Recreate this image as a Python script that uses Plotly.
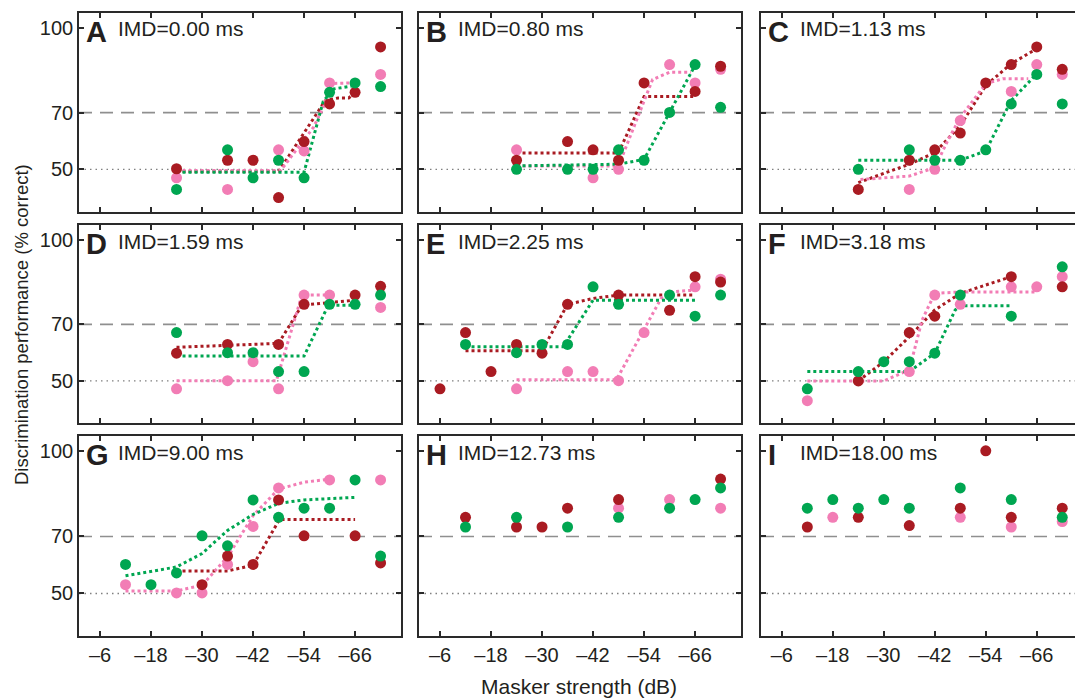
import plotly.graph_objects as go

# ---------------- data ----------------
MASKER = [-6, -12, -18, -24, -30, -36, -42, -48, -54, -60, -66, -72]
X_TICKS = [-6, -18, -30, -42, -54, -66]
X_TICK_TEXT = ["–6", "–18", "–30", "–42", "–54", "–66"]
Y_TICKS = [50, 70, 100]
PANEL_LETTERS = ["A", "B", "C", "D", "E", "F", "G", "H", "I"]
IMD_LABELS = ["IMD=0.00 ms", "IMD=0.80 ms", "IMD=1.13 ms", "IMD=1.59 ms", "IMD=2.25 ms",
              "IMD=3.18 ms", "IMD=9.00 ms", "IMD=12.73 ms", "IMD=18.00 ms"]

A_RED   = [None, None, None, 50.2, None, 53.2, 53.2, 40.0, 59.8, 73.1, 77.2, 93.2]
A_PINK  = [None, None, None, 47.0, None, 42.9, None, 56.9, 56.5, 80.5, None, 83.5]
A_GREEN = [None, None, None, 42.9, None, 56.9, 47.0, 53.2, 47.0, 77.2, 80.5, 79.2]

B_RED   = [None, None, None, 53.2, None, 59.8, 56.9, 53.2, 80.5, None, 77.5, 86.4]
B_PINK  = [None, None, None, 56.9, None, None, 47.0, 50.0, None, 87.0, 80.5, 85.3]
B_GREEN = [None, None, None, 50.0, None, 50.0, 50.0, 56.9, 53.2, 70.1, 87.0, 71.9]

C_RED   = [None, None, None, 42.9, None, 53.2, 56.9, 62.8, 80.5, 87.0, 93.2, 85.3]
C_PINK  = [None, None, None, None, None, 42.9, 50.0, 67.2, None, 77.5, 87.0, 83.5]
C_GREEN = [None, None, None, 50.0, None, 56.9, 53.2, 53.2, 56.9, 73.1, 83.5, 73.1]

D_RED   = [None, None, None, 59.8, None, 62.9, None, 62.9, 77.1, None, 80.4, 83.5]
D_PINK  = [None, None, None, 47.2, None, 50.1, 56.8, 47.2, 80.4, 80.4, None, 76.0]
D_GREEN = [None, None, None, 67.1, None, 60.0, 60.0, 53.3, 53.3, 77.1, 77.1, 80.4]

E_RED   = [47.2, 67.1, 53.3, 62.9, 59.8, 77.1, None, 80.4, None, 75.0, 86.9, 85.0]
E_PINK  = [None, None, None, 47.2, None, 53.3, 53.3, 50.1, 67.1, None, 83.3, 86.0]
E_GREEN = [None, 62.9, None, 60.0, 62.9, 62.9, 83.3, 77.1, None, 80.4, 72.9, 80.4]

F_RED   = [None, None, None, 50.0, None, 67.1, 72.9, None, None, 86.9, None, 83.3]
F_PINK  = [None, 43.0, None, None, None, 53.3, 80.4, 77.1, None, 83.3, 83.3, 86.9]
F_GREEN = [None, 47.2, None, 53.3, 56.8, 56.8, 59.8, 80.4, None, 72.9, None, 90.4]

G_RED   = [None, None, None, None, 53.1, 63.1, 60.2, 82.8, 70.2, None, 70.2, 60.7]
G_PINK  = [None, 53.1, None, 50.2, 50.2, 60.2, 73.5, 87.0, None, 89.8, None, 89.8]
G_GREEN = [None, 60.2, 53.1, 57.2, 70.2, 66.7, 82.8, 76.7, 79.9, 79.9, 89.8, 63.1]

H_RED   = [None, 76.7, None, 73.3, 73.3, 79.9, None, 82.9, None, None, None, 90.1]
H_PINK  = [None, None, None, None, None, None, None, 79.9, None, 82.9, None, 79.9]
H_GREEN = [None, 73.3, None, 76.7, None, 73.3, None, 76.7, None, 79.9, 82.9, 87.0]

I_RED   = [None, 73.3, None, 76.7, None, 73.8, None, 79.9, 100.0, 76.7, None, 79.9]
I_PINK  = [None, None, 76.7, None, None, None, None, 76.7, None, 73.3, None, 75.2]
I_GREEN = [None, 79.9, 82.9, 79.9, 82.9, 79.9, None, 87.0, None, 82.9, None, 76.7]

# fitted (dotted) curves
A_RED_FIT_X = [-24, -48, -59, -62, -64.5, -66]
A_RED_FIT_Y = [49.2, 49.2, 74.3, 75.2, 75.2, 77.0]
A_PINK_FIT_X = [-24, -48.5, -56.2, -58.9, -60, -65]
A_PINK_FIT_Y = [49.6, 49.6, 64.8, 73.1, 80.3, 80.5]
A_GREEN_FIT_X = [-24, -54, -58.5, -61, -66]
A_GREEN_FIT_Y = [49.0, 49.0, 74.0, 78.4, 79.6]

B_RED_FIT_X = [-24, -48, -54, -66]
B_RED_FIT_Y = [55.8, 55.8, 75.7, 75.7]
B_PINK_FIT_X = [-24, -48, -56, -60, -65]
B_PINK_FIT_Y = [51.2, 51.2, 81.7, 84.3, 84.3]
B_GREEN_FIT_X = [-24, -48, -54, -66]
B_GREEN_FIT_Y = [51.2, 51.8, 53.5, 86.7]

C_RED_FIT_X = [-24, -36, -42, -48, -54, -60, -66]
C_RED_FIT_Y = [45.3, 51.8, 55.9, 65.4, 79.6, 87.3, 92.6]
C_PINK_FIT_X = [-24.5, -36, -42, -45, -48, -54, -58, -64]
C_PINK_FIT_Y = [46.4, 47.6, 50.6, 60.0, 68.3, 80.2, 82.0, 82.0]
C_GREEN_FIT_X = [-24, -48, -54, -60, -66]
C_GREEN_FIT_Y = [53.2, 53.2, 56.5, 74.3, 83.7]

D_RED_FIT_X = [-24, -48, -53.5, -66]
D_RED_FIT_Y = [61.9, 63.3, 76.8, 78.6]
D_PINK_FIT_X = [-24, -47.5, -53.5, -60]
D_PINK_FIT_Y = [50.1, 50.1, 80.4, 80.4]
D_GREEN_FIT_X = [-24, -54, -59.7, -66]
D_GREEN_FIT_Y = [58.8, 58.8, 76.8, 76.8]

E_RED_FIT_X = [-12, -30, -36, -42, -48, -66]
E_RED_FIT_Y = [60.7, 60.7, 77.1, 79.2, 80.4, 80.4]
E_PINK_FIT_X = [-24, -47.5, -58, -60, -65.5]
E_PINK_FIT_Y = [50.4, 50.4, 79.2, 81.5, 82.1]
E_GREEN_FIT_X = [-12, -35, -42, -66]
E_GREEN_FIT_Y = [62.1, 62.1, 78.6, 78.6]

F_RED_FIT_X = [-24, -30, -36, -42, -48, -60]
F_RED_FIT_Y = [50.0, 56.8, 65.6, 75.1, 81.0, 86.9]
F_PINK_FIT_X = [-12, -30, -36, -39, -42, -48, -66]
F_PINK_FIT_Y = [50.0, 50.0, 53.9, 71.5, 81.0, 81.5, 81.5]
F_GREEN_FIT_X = [-12, -36, -42, -46.8, -48, -60]
F_GREEN_FIT_Y = [53.3, 53.3, 59.8, 75.1, 76.6, 76.6]

G_RED_FIT_X = [-24, -36, -42, -48.2, -66]
G_RED_FIT_Y = [57.9, 57.9, 59.9, 75.9, 75.9]
G_PINK_FIT_X = [-12, -24, -30, -36, -42, -48, -54, -60]
G_PINK_FIT_Y = [50.9, 50.9, 52.9, 62.8, 77.3, 86.6, 89.0, 90.1]
G_GREEN_FIT_X = [-12, -24, -30, -36, -42, -48, -54, -66]
G_GREEN_FIT_Y = [56.2, 59.3, 64.0, 72.1, 77.7, 81.6, 82.8, 83.7]

PANEL_POINTS = [
    (A_RED, A_PINK, A_GREEN), (B_RED, B_PINK, B_GREEN), (C_RED, C_PINK, C_GREEN),
    (D_RED, D_PINK, D_GREEN), (E_RED, E_PINK, E_GREEN), (F_RED, F_PINK, F_GREEN),
    (G_RED, G_PINK, G_GREEN), (H_RED, H_PINK, H_GREEN), (I_RED, I_PINK, I_GREEN),
]
PANEL_FITS = [
    [(A_RED_FIT_X, A_RED_FIT_Y), (A_PINK_FIT_X, A_PINK_FIT_Y), (A_GREEN_FIT_X, A_GREEN_FIT_Y)],
    [(B_RED_FIT_X, B_RED_FIT_Y), (B_PINK_FIT_X, B_PINK_FIT_Y), (B_GREEN_FIT_X, B_GREEN_FIT_Y)],
    [(C_RED_FIT_X, C_RED_FIT_Y), (C_PINK_FIT_X, C_PINK_FIT_Y), (C_GREEN_FIT_X, C_GREEN_FIT_Y)],
    [(D_RED_FIT_X, D_RED_FIT_Y), (D_PINK_FIT_X, D_PINK_FIT_Y), (D_GREEN_FIT_X, D_GREEN_FIT_Y)],
    [(E_RED_FIT_X, E_RED_FIT_Y), (E_PINK_FIT_X, E_PINK_FIT_Y), (E_GREEN_FIT_X, E_GREEN_FIT_Y)],
    [(F_RED_FIT_X, F_RED_FIT_Y), (F_PINK_FIT_X, F_PINK_FIT_Y), (F_GREEN_FIT_X, F_GREEN_FIT_Y)],
    [(G_RED_FIT_X, G_RED_FIT_Y), (G_PINK_FIT_X, G_PINK_FIT_Y), (G_GREEN_FIT_X, G_GREEN_FIT_Y)],
    None, None,
]

# ---------------- style ----------------
RED = "#a91b22"
PINK = "#f27db5"
GREEN = "#00a651"
FONT = "Liberation Sans, Arial, Helvetica, sans-serif"
TXT = "#231f20"
FRAME = "#2a2a2a"

W, H = 1075, 698
COL_PX = [(79, 401), (419, 741), (761, 1075)]
ROW_PX = [(13, 211.5), (225, 423), (436, 636)]
X_RANGES = [[-1.06, -76.8], [-1.06, -76.8], [-1.1, -75.0]]
Y_RANGE = [35.1, 105.2]

fig = go.Figure()
layout = dict(
    width=W, height=H, autosize=False,
    margin=dict(l=0, r=0, t=0, b=0),
    paper_bgcolor="white", plot_bgcolor="white",
    showlegend=False,
    font=dict(family=FONT, color=TXT, size=19),
)
shapes = []
annotations = []

for i in range(9):
    r, c = divmod(i, 3)
    n = i + 1
    xa = "x" if n == 1 else f"x{n}"
    ya = "y" if n == 1 else f"y{n}"
    xkey = "xaxis" if n == 1 else f"xaxis{n}"
    ykey = "yaxis" if n == 1 else f"yaxis{n}"
    x0, x1 = COL_PX[c]
    y0, y1 = ROW_PX[r]
    layout[xkey] = dict(
        domain=[x0 / W, x1 / W], range=X_RANGES[c], anchor=ya,
        tickvals=X_TICKS, ticktext=X_TICK_TEXT, showticklabels=(r == 2),
        ticks="inside", ticklen=5, tickwidth=1.5, tickcolor=FRAME,
        showline=True, linecolor=FRAME, linewidth=1.6, mirror="ticks",
        showgrid=False, zeroline=False, tickfont=dict(size=20, family=FONT, color=TXT),
    )
    layout[ykey] = dict(
        domain=[1 - y1 / H, 1 - y0 / H], range=Y_RANGE, anchor=xa,
        tickvals=Y_TICKS, showticklabels=(c == 0),
        ticks="inside", ticklen=5, tickwidth=1.5, tickcolor=FRAME,
        showline=True, linecolor=FRAME, linewidth=1.6,
        mirror=("ticks" if c < 2 else False),
        showgrid=False, zeroline=False, tickfont=dict(size=20, family=FONT, color=TXT),
    )
    # reference lines
    shapes.append(dict(type="line", xref=f"{xa} domain", yref=ya, x0=0, x1=1, y0=70, y1=70,
                       line=dict(color="#8f8f8f", width=1.6, dash="13px,8px"), layer="below"))
    shapes.append(dict(type="line", xref=f"{xa} domain", yref=ya, x0=0, x1=1, y0=50, y1=50,
                       line=dict(color="#808080", width=1.3, dash="1.5px,4px"), layer="below"))
    # fits
    fits = PANEL_FITS[i]
    if fits:
        for (fx, fy), col in zip(fits, [RED, PINK, GREEN]):
            fig.add_trace(go.Scatter(x=fx, y=fy, mode="lines", xaxis=xa, yaxis=ya,
                                     line=dict(color=col, width=3, dash="dot"),
                                     hoverinfo="skip"))
    red, pink, green = PANEL_POINTS[i]
    for vals, col in [(pink, PINK), (red, RED), (green, GREEN)]:
        fig.add_trace(go.Scatter(x=MASKER, y=vals, mode="markers", xaxis=xa, yaxis=ya,
                                 marker=dict(color=col, size=11, line=dict(width=0))))
    # panel labels
    pw = x1 - x0
    ph = y1 - y0
    annotations.append(dict(xref=f"{xa} domain", yref=f"{ya} domain", x=5 / pw, y=1 - 19 / ph,
                            xanchor="left", yanchor="middle", showarrow=False,
                            text=f"<b>{PANEL_LETTERS[i]}</b>",
                            font=dict(size=29, family=FONT, color=TXT)))
    annotations.append(dict(xref=f"{xa} domain", yref=f"{ya} domain", x=37 / pw, y=1 - 16 / ph,
                            xanchor="left", yanchor="middle", showarrow=False,
                            text=IMD_LABELS[i], font=dict(size=21, family=FONT, color=TXT)))

annotations.append(dict(xref="paper", yref="paper", x=579 / W, y=1 - 686 / H,
                        xanchor="center", yanchor="middle", showarrow=False,
                        text="Masker strength (dB)", font=dict(size=21, family=FONT, color=TXT)))
annotations.append(dict(xref="paper", yref="paper", x=21 / W, y=1 - 325 / H,
                        xanchor="center", yanchor="middle", showarrow=False, textangle=-90,
                        text="Discrimination performance (% correct)",
                        font=dict(size=18.5, family=FONT, color=TXT)))

layout["shapes"] = shapes
layout["annotations"] = annotations
fig.update_layout(**layout)
fig.write_html("out.html")
